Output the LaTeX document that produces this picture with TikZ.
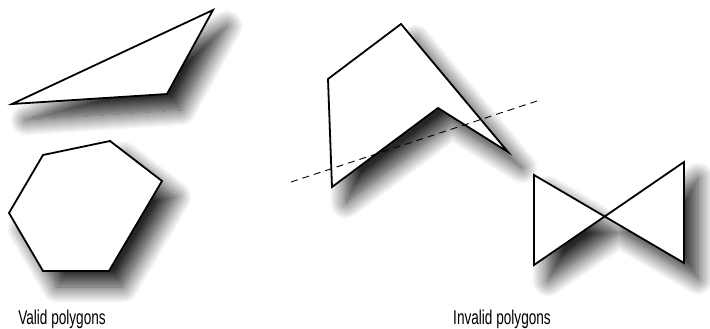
\documentclass[tikz,border=0pt]{standalone}
\usepackage{fontspec}
\setmainfont{Liberation Sans}
\usetikzlibrary{shadows.blur}
\tikzset{
  poly/.style={draw=black, line width=1.8pt, line join=miter, fill=white,
    blur shadow={shadow xshift=14pt, shadow yshift=-16pt, shadow blur radius=16pt, shadow blur steps=16, shadow opacity=85}},
  cutline/.style={draw=black, line width=0.9pt, dash pattern=on 7pt off 5pt},
  caption/.style={font=\fontsize{20}{22}\selectfont, inner sep=0pt, anchor=base}
}
\begin{document}
\begin{tikzpicture}[x=1pt, y=-1pt]
\useasboundingbox (0,0) rectangle (710,329);
% valid triangle
\path[poly] (12,104) -- (213,10) -- (167,94) -- cycle;
% valid hexagon
\path[poly] (43,155) -- (110,141) -- (162,181) -- (109,271) -- (43,271) -- (9,213) -- cycle;
% invalid concave polygon
\path[poly] (328,79) -- (401,24) -- (508,152) -- (438,108) -- (332,187) -- cycle;
\coordinate (d1) at (291,182);
\coordinate (d2) at (537,101);
\draw[cutline] (d1) -- (d2);
% bow tie
\path[poly] (534,175) -- (684,263) -- (684,162) -- (534,265) -- cycle;
% captions
\node[caption] (valid) at (62,324) {\scalebox{0.68}[1]{Valid polygons}};
\node[caption] (invalid) at (502,324) {\scalebox{0.68}[1]{Invalid polygons}};
\end{tikzpicture}
\end{document}
